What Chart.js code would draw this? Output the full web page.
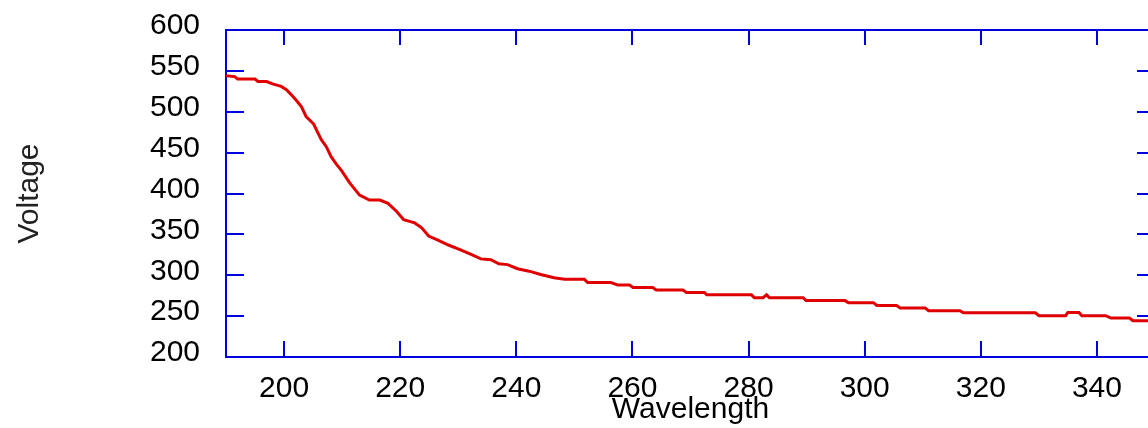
<!DOCTYPE html>
<html>
<head>
<meta charset="utf-8">
<script src="https://cdn.jsdelivr.net/npm/chart.js@4"></script>
<style>
  html, body { margin: 0; padding: 0; background: #fff; overflow: hidden; }
  #wrap { width: 1160px; height: 428px; }
</style>
</head>
<body>
<div id="wrap"><canvas id="chart" width="1160" height="428"></canvas></div>
<script>
// values
const wavelength = [190, 191.5, 192, 195, 195.5, 197, 198, 199.5, 200.4, 201.2, 202.1, 203, 203.8, 205.1, 205.7,
  206.4, 207.3, 208.1, 209, 209.9, 211.3, 212.2, 213, 214.7, 216.5, 217.9, 219.4, 220.6, 222.5, 223.7, 224.9,
  226.5, 228.3, 230.4, 232.4, 233.9, 235.6, 237, 238.5, 240.2, 242.2, 244.2, 246.5, 248.3, 251.7, 252.3, 256.3,
  257.5, 259.5, 260.1, 263.5, 264.1, 268.7, 269.3, 272.4, 272.8, 280.5, 281, 282.5, 283.1, 283.6, 289.4, 289.9,
  296.6, 297.2, 301.5, 302.1, 305.5, 306.1, 310.4, 311, 316.4, 317, 329.4, 330, 334.6, 335, 336.9, 337.4, 341.5,
  342.4, 345.6, 346.2, 350];
const voltage = [544, 543, 540, 540, 537, 537, 534, 531, 527, 521, 514, 506, 494, 485, 476,
  466, 457, 445, 436, 428, 413, 405, 398, 392, 392, 388, 378, 368, 364, 358, 348,
  343, 337, 331, 325, 320, 319, 314, 313, 308, 305, 301, 297, 295, 295, 291, 291,
  288, 288, 285, 285, 282, 282, 279, 279, 276, 276, 272.5, 272.5, 276, 272.5, 272.5, 269,
  269, 266.5, 266.5, 263, 263, 260, 260, 256.6, 256.6, 254, 254, 250.5, 250.5, 254.5, 254.5, 250.5, 250.5,
  247.7, 247.7, 244.4, 244.4];
const xTicks = [200, 220, 240, 260, 280, 300, 320, 340];
const yTicks = [200, 250, 300, 350, 400, 450, 500, 550, 600];

const axisBlue = "#0000e0";
const font = "'Liberation Sans', Arial, sans-serif";

// box round the plot with inward tick marks on all four sides
const frame = {
    id: "frame",
    beforeDatasetsDraw(chart) {
        const { ctx, chartArea: a, scales: { x, y } } = chart;
        ctx.save();
        ctx.strokeStyle = axisBlue;
        ctx.lineWidth = 2;
        ctx.beginPath();
        x.ticks.forEach(t => {
            const px = Math.round(x.getPixelForValue(t.value));
            ctx.moveTo(px, a.top); ctx.lineTo(px, a.top + 15);
            ctx.moveTo(px, a.bottom); ctx.lineTo(px, a.bottom - 16);
        });
        y.ticks.forEach(t => {
            const py = Math.round(y.getPixelForValue(t.value));
            ctx.moveTo(a.left, py); ctx.lineTo(a.left + 18, py);
            ctx.moveTo(a.right, py); ctx.lineTo(a.right - 18, py);
        });
        ctx.stroke();
        ctx.strokeRect(a.left, a.top, a.right - a.left, a.bottom - a.top);
        ctx.restore();
    }
};

new Chart(document.getElementById("chart"), {
    type: "line",
    data: {
        datasets: [{
            data: wavelength.map((w, i) => ({ x: w, y: voltage[i] })),
            borderColor: "#e00000",
            borderWidth: 3,
            pointRadius: 0,
            tension: 0
        }]
    },
    options: {
        responsive: false,
        animation: false,
        layout: { padding: { top: 30, right: 5, left: 0, bottom: 0 } },
        plugins: { legend: { display: false }, tooltip: { enabled: false } },
        scales: {
            x: {
                type: "linear",
                min: 190,
                max: 350,
                afterBuildTicks: s => { s.ticks = xTicks.map(v => ({ value: v })); },
                afterFit: s => { s.height = 71; s.paddingLeft = 0; s.paddingRight = 0; },
                grid: { display: false },
                border: { display: false },
                ticks: { color: "#000", padding: 6, maxRotation: 0, font: { family: font, size: 30 } },
                title: {
                    display: true, text: "Wavelength", color: "#000",
                    font: { family: font, size: 30 }, padding: { top: 0, bottom: 0 }
                }
            },
            y: {
                min: 200,
                max: 600,
                afterBuildTicks: s => { s.ticks = yTicks.map(v => ({ value: v })); },
                afterFit: s => { s.width = 226; s.paddingTop = 0; s.paddingBottom = 0; },
                grid: { display: false },
                border: { display: false },
                ticks: { color: "#000", padding: 18, labelOffset: -4, font: { family: font, size: 30 } },
                title: {
                    display: true, text: "Voltage", color: "#222",
                    font: { family: font, size: 30 }, padding: { top: 12, bottom: 0 }
                }
            }
        }
    },
    plugins: [frame]
});
</script>
</body>
</html>
